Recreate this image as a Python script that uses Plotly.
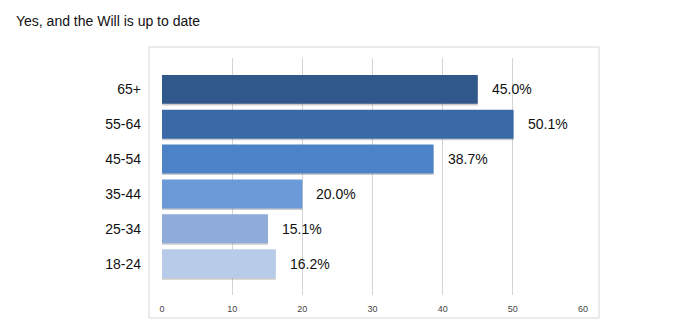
import plotly.graph_objects as go

categories = ["18-24", "25-34", "35-44", "45-54", "55-64", "65+"]
values = [16.2, 15.1, 20.0, 38.7, 50.1, 45.0]
labels = ["16.2%", "15.1%", "20.0%", "38.7%", "50.1%", "45.0%"]
colors = ["#b8cce9", "#8eabd9", "#6b9ad8", "#4b83c6", "#3a69a8", "#30588b"]
tick_vals = [0, 10, 20, 30, 40, 50, 60]

L, R, T, B = 162, 93, 58, 31
W, H = 676, 326
pw, ph = W - L - R, H - T - B
FONT = "Liberation Sans, Arial, sans-serif"

fig = go.Figure()
# soft shadow
fig.add_trace(go.Bar(
    y=categories, x=values, orientation="h",
    marker=dict(color="rgba(110,110,110,0.35)", line=dict(width=0)),
    width=0.83, offset=-0.46, hoverinfo="skip", showlegend=False,
))
fig.add_trace(go.Bar(
    y=categories, x=values, orientation="h",
    marker=dict(color=colors, line=dict(width=0)),
    width=0.83, offset=-0.415,
    showlegend=False,
))

annotations = [
    dict(x=v, y=c, xref="x", yref="y", text=t, showarrow=False,
         xanchor="left", yanchor="middle", xshift=12,
         font=dict(family=FONT, size=14, color="#111111"))
    for c, v, t in zip(categories, values, labels)
]

fig.update_layout(
    width=W, height=H,
    margin=dict(l=L, r=R, t=T, b=B),
    paper_bgcolor="white", plot_bgcolor="white",
    barmode="overlay",
    title=dict(text="Yes, and the Will is up to date", x=16 / W, xanchor="left",
               y=1 - 21 / H, yanchor="middle",
               font=dict(family=FONT, size=14, color="#111111")),
    xaxis=dict(range=[0, 60], tickvals=tick_vals, showgrid=True, gridcolor="#d4d4d4",
               gridwidth=1, zeroline=False, showline=False, ticks="",
               tickfont=dict(family=FONT, size=9, color="#444444"),
               ticklabelstandoff=7),
    yaxis=dict(type="category", range=[-0.9, 5.9], showgrid=False, zeroline=False,
               showline=False, ticks="", ticklabelstandoff=20,
               tickfont=dict(family=FONT, size=14, color="#111111")),
    annotations=annotations,
    shapes=[
        dict(type="rect", xref="paper", yref="paper",
             x0=(149 - L) / pw, x1=(599 - L) / pw,
             y0=(H - B - 318) / ph, y1=(H - B - 47) / ph,
             line=dict(color="#d6d6d6", width=1), fillcolor="rgba(0,0,0,0)", layer="below"),
    ],
)

fig.write_html("out.html")
